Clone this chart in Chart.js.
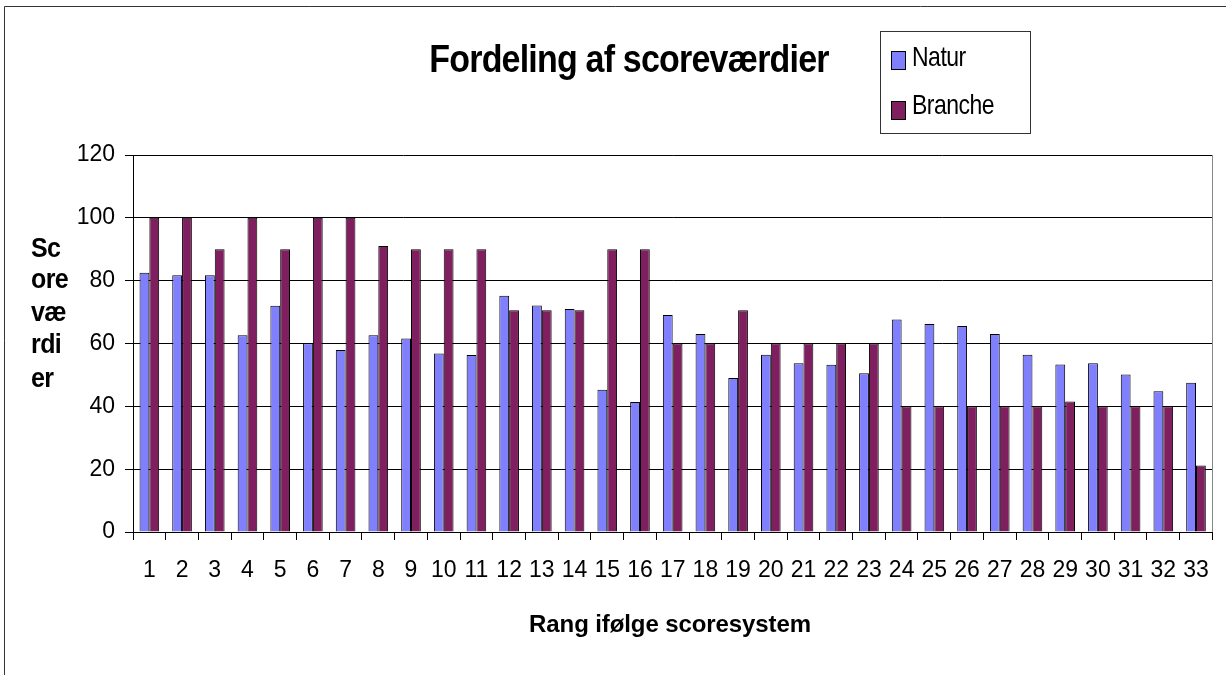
<!DOCTYPE html>
<html lang="da">
<head>
    <meta charset="UTF-8">
    <title>Fordeling af scoreværdier</title>
    <style>
        body {
            margin: 0;
            background-color: #FFFFFF;
        }
        #chartContainer {
            width: 1226px;
            height: 675px;
        }
    </style>
    <script src="https://cdn.jsdelivr.net/npm/chart.js"></script>
</head>
<body>
    <div id="chartContainer">
        <canvas id="myChart" width="1226" height="675"></canvas>
    </div>

    <script>
        // Data
        var labels = ['1', '2', '3', '4', '5', '6', '7', '8', '9', '10', '11', '12', '13', '14', '15', '16', '17',
                      '18', '19', '20', '21', '22', '23', '24', '25', '26', '27', '28', '29', '30', '31', '32', '33'];
        var naturValues = [82.5, 81.7, 81.7, 62.6, 72.0, 60.1, 57.9, 62.6, 61.6, 56.8, 56.3, 75.2, 72.1, 71.0, 45.3, 41.4, 69.1,
                           63.0, 49.0, 56.4, 53.7, 53.2, 50.5, 67.6, 66.2, 65.6, 63.0, 56.4, 53.3, 53.7, 50.1, 44.8, 47.5];
        var brancheValues = [100, 100, 90, 100, 90, 100, 100, 91, 90, 90, 90, 70.6, 70.6, 70.6, 90, 90, 60,
                             60, 70.6, 60, 60, 60, 60, 40, 40, 40, 40, 40, 41.5, 40, 40, 40, 21.2];
        var seriesNames = ['Natur', 'Branche'];
        var seriesColors = ['#8080FF', '#7F1F5F'];
        var yTitleLines = ['Sc', 'ore', 'væ', 'rdi', 'er'];
        var chartTitle = 'Fordeling af scoreværdier';
        var xTitle = 'Rang ifølge scoresystem';

        var FONT = '"Liberation Sans", Arial, Helvetica, sans-serif';

        // Tekster, legende og rammer tegnes selv
        var decorations = {
            id: 'decorations',
            afterDraw: function(chart) {
                var ctx = chart.ctx;
                var area = chart.chartArea;
                ctx.save();

                // ydre ramme (kun top og venstre er synlige)
                ctx.strokeStyle = '#333';
                ctx.lineWidth = 1;
                ctx.beginPath();
                ctx.moveTo(4.5, 675);
                ctx.lineTo(4.5, 6.5);
                ctx.lineTo(1226, 6.5);
                ctx.stroke();

                // højre kant af plotområdet
                ctx.strokeStyle = '#888';
                ctx.beginPath();
                ctx.moveTo(Math.round(area.right) + 0.5, area.top);
                ctx.lineTo(Math.round(area.right) + 0.5, area.bottom);
                ctx.stroke();

                ctx.fillStyle = '#000';

                // titel
                ctx.save();
                ctx.font = 'bold 34px ' + FONT;
                ctx.letterSpacing = '-0.8px';
                ctx.textAlign = 'center';
                ctx.textBaseline = 'alphabetic';
                ctx.translate(629, 72);
                ctx.scale(1, 1.15);
                ctx.fillText(chartTitle, 0, 0);
                ctx.restore();

                // legende
                ctx.strokeStyle = '#333';
                ctx.strokeRect(880.5, 31.5, 150, 102);
                var legendY = [51, 101];
                var legendBase = [66, 114];
                for (var i = 0; i < seriesNames.length; i++) {
                    ctx.fillStyle = seriesColors[i];
                    ctx.fillRect(891, legendY[i], 14, 18);
                    ctx.strokeStyle = '#000';
                    ctx.strokeRect(891.5, legendY[i] + 0.5, 14, 18);
                    ctx.save();
                    ctx.fillStyle = '#000';
                    ctx.font = '23px ' + FONT;
                    ctx.letterSpacing = '-0.5px';
                    ctx.textAlign = 'left';
                    ctx.translate(912, legendBase[i]);
                    ctx.scale(1, 1.2);
                    ctx.fillText(seriesNames[i], 0, 0);
                    ctx.restore();
                }

                // y-aksens titel
                ctx.fillStyle = '#000';
                ctx.font = 'bold 25px ' + FONT;
                ctx.letterSpacing = '-0.6px';
                ctx.textAlign = 'left';
                var yBase = [257, 288, 321, 353, 387];
                yTitleLines.forEach(function(line, k) {
                    ctx.save();
                    ctx.translate(31, yBase[k]);
                    ctx.scale(1, 1.08);
                    ctx.fillText(line, 0, 0);
                    ctx.restore();
                });

                // x-aksens titel
                ctx.font = 'bold 24px ' + FONT;
                ctx.letterSpacing = '-0.1px';
                ctx.textAlign = 'center';
                ctx.fillText(xTitle, 670, 632);

                ctx.restore();
            }
        };

        var ctx = document.getElementById('myChart').getContext('2d');
        var myChart = new Chart(ctx, {
            type: 'bar',
            data: {
                labels: labels,
                datasets: [{
                    label: seriesNames[0],
                    data: naturValues,
                    backgroundColor: seriesColors[0],
                    borderColor: '#000',
                    borderWidth: 1,
                    categoryPercentage: 0.6,
                    barPercentage: 1.0
                }, {
                    label: seriesNames[1],
                    data: brancheValues,
                    backgroundColor: seriesColors[1],
                    borderColor: '#000',
                    borderWidth: 1,
                    categoryPercentage: 0.6,
                    barPercentage: 1.0
                }]
            },
            options: {
                responsive: false,
                animation: false,
                layout: {
                    padding: { top: 155, right: 13, left: 0, bottom: 0 }
                },
                plugins: {
                    legend: { display: false },
                    title: { display: false },
                    tooltip: { enabled: false }
                },
                scales: {
                    x: {
                        afterFit: function(scale) { scale.height = 143; },
                        grid: {
                            display: true,
                            drawOnChartArea: false,
                            drawTicks: true,
                            tickLength: 8,
                            color: '#000'
                        },
                        border: { display: true, color: '#000', width: 1 },
                        ticks: {
                            color: '#000',
                            font: { family: FONT, size: 23 },
                            padding: 17,
                            autoSkip: false,
                            maxRotation: 0
                        }
                    },
                    y: {
                        min: 0,
                        max: 120,
                        afterFit: function(scale) { scale.width = 133; },
                        grid: {
                            color: '#000',
                            lineWidth: 1,
                            drawTicks: true,
                            tickLength: 8
                        },
                        border: { display: true, color: '#000', width: 1 },
                        ticks: {
                            stepSize: 20,
                            color: '#000',
                            font: { family: FONT, size: 23 },
                            padding: 10
                        }
                    }
                }
            },
            plugins: [decorations]
        });
    </script>
</body>
</html>
